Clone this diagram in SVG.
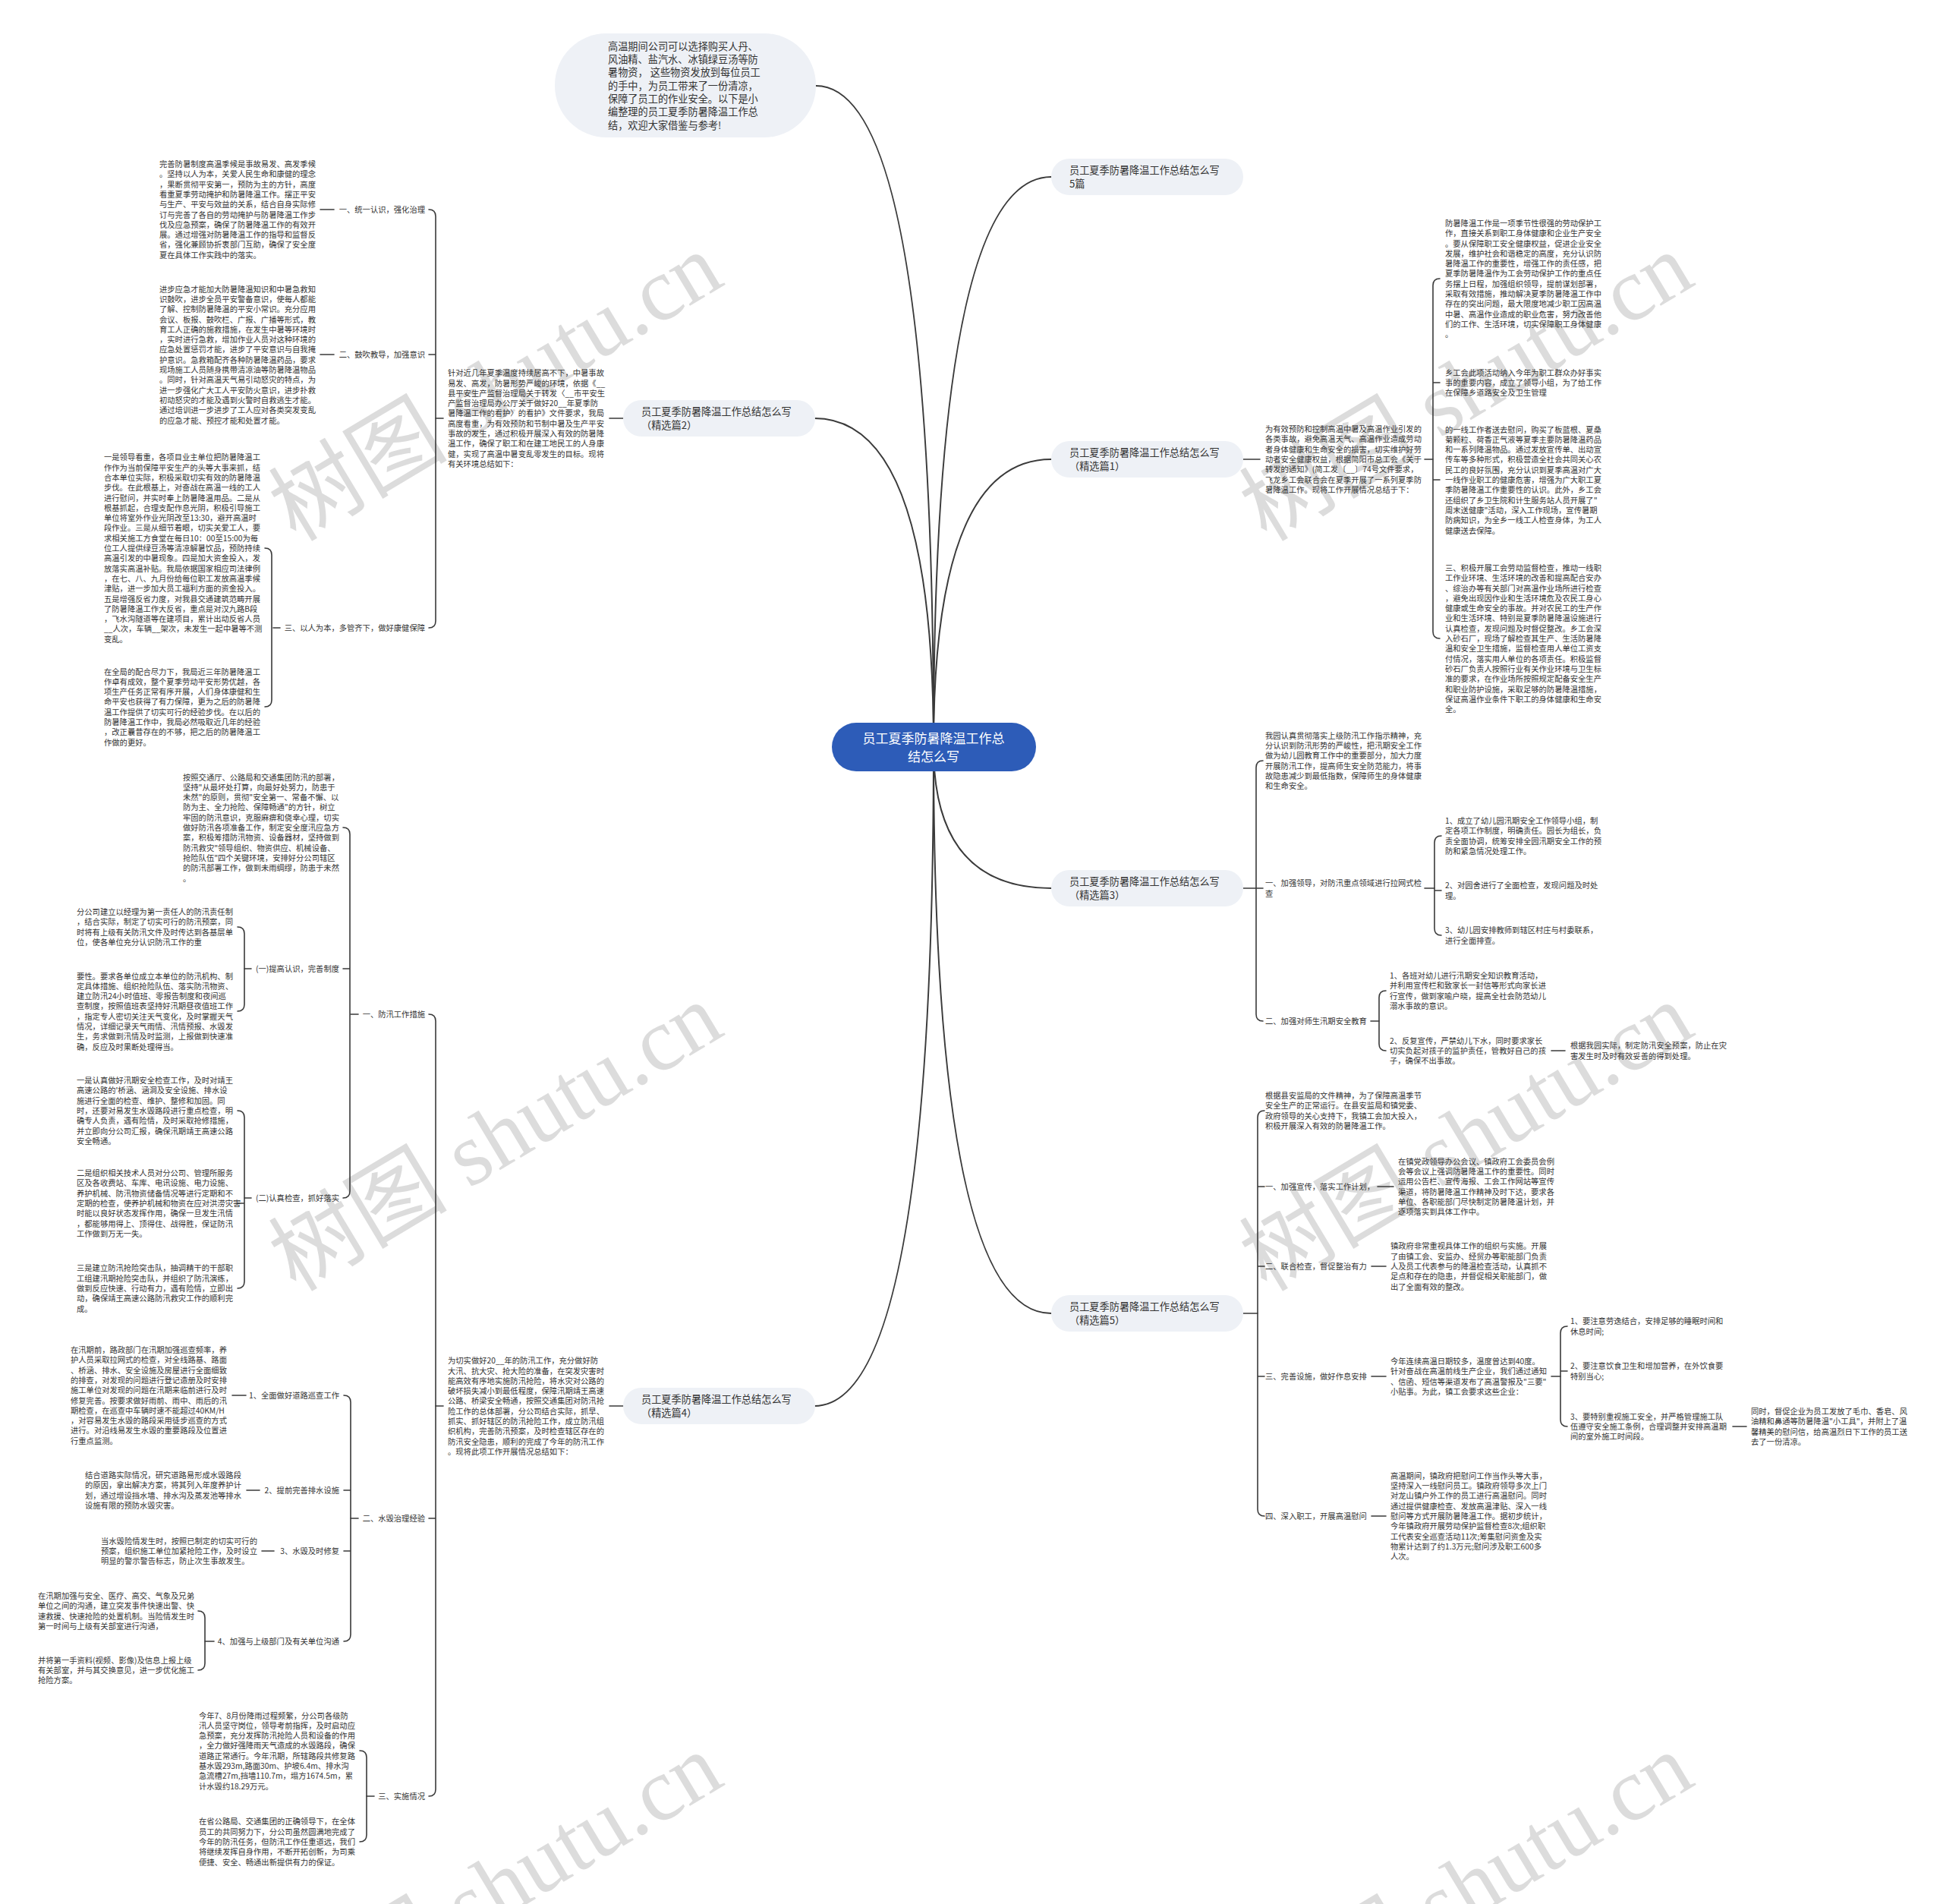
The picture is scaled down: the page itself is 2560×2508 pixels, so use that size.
<svg xmlns="http://www.w3.org/2000/svg" width="2560" height="2508" viewBox="0 0 2560 2508">
<style>
.t{font-family:"Noto Sans CJK SC","Noto Sans",sans-serif;font-size:10.3px;fill:#333}
.te{text-anchor:end}
.p{font-family:"Noto Sans CJK SC","Noto Sans",sans-serif;font-size:13.2px;fill:#333}
.c{font-family:"Noto Sans CJK SC","Noto Sans",sans-serif;font-size:17px;fill:#fff;text-anchor:middle}
.ln{fill:none;stroke:#3a3a3a;stroke-width:1.6;stroke-linecap:round;stroke-linejoin:round}
.mc{fill:none;stroke:#3a3a3a;stroke-width:2}
.pill{fill:#eef1f6}
.wm{font-family:"Liberation Serif","Noto Sans CJK SC",serif;font-size:118px;fill:#dcdcdc;text-anchor:middle}
</style>
<rect width="2560" height="2508" fill="#ffffff"/>
<g id="watermarks">
<text class="wm" x="653" y="550" transform="rotate(-31 653 510)">树图 shutu.cn</text>
<text class="wm" x="1932" y="550" transform="rotate(-31 1932 510)">树图 shutu.cn</text>
<text class="wm" x="653" y="1538" transform="rotate(-31 653 1498)">树图 shutu.cn</text>
<text class="wm" x="1932" y="1538" transform="rotate(-31 1932 1498)">树图 shutu.cn</text>
<text class="wm" x="653" y="2526" transform="rotate(-31 653 2486)">树图 shutu.cn</text>
<text class="wm" x="1932" y="2526" transform="rotate(-31 1932 2486)">树图 shutu.cn</text>
</g>
<g id="connectors">
<path class="mc" d="M1230 984 Q1230 113 1075 113"/>
<path class="mc" d="M1230 984 Q1230 551 1073 551"/>
<path class="mc" d="M1230 984 Q1230 1852 1073 1852"/>
<path class="mc" d="M1230 984 Q1230 233 1385 233"/>
<path class="mc" d="M1230 984 Q1230 605 1385 605"/>
<path class="mc" d="M1230 984 Q1230 1170 1385 1170"/>
<path class="mc" d="M1230 984 Q1230 1730 1385 1730"/>
<path class="ln" d="M1638 605 L1660 605"/>
<path class="ln" d="M1877 605 L1888 605"/>
<path class="ln" d="M1897 367 Q1888 367 1888 376 L1888 832 Q1888 841 1897 841 M1888 504 L1897 504 M1888 632 L1897 632"/>
<path class="ln" d="M1638 1170 L1664 1170"/>
<path class="ln" d="M1664 1002 Q1655 1002 1655 1011 L1655 1336 Q1655 1345 1664 1345"/>
<path class="ln" d="M1877 1170 L1890 1170"/>
<path class="ln" d="M1899 1101 Q1890 1101 1890 1110 L1890 1223 Q1890 1232 1899 1232 M1890 1173 L1899 1173"/>
<path class="ln" d="M1806 1345 L1817 1345"/>
<path class="ln" d="M1826 1305 Q1817 1305 1817 1314 L1817 1375 Q1817 1384 1826 1384"/>
<path class="ln" d="M2044 1384 L2062 1384"/>
<path class="ln" d="M1638 1730 L1657 1730"/>
<path class="ln" d="M1666 1463 Q1657 1463 1657 1472 L1657 1988 Q1657 1997 1666 1997 M1657 1563 L1666 1563 M1657 1668 L1666 1668 M1657 1813 L1666 1813"/>
<path class="ln" d="M1815 1563 L1836 1563"/>
<path class="ln" d="M1807 1668 L1826 1668"/>
<path class="ln" d="M1807 1813 L1826 1813"/>
<path class="ln" d="M2044 1813 L2056 1813"/>
<path class="ln" d="M2065 1747 Q2056 1747 2056 1756 L2056 1870 Q2056 1879 2065 1879 M2056 1806 L2065 1806"/>
<path class="ln" d="M2283 1879 L2301 1879"/>
<path class="ln" d="M1807 1997 L1826 1997"/>
<path class="ln" d="M803 551 L821 551"/>
<path class="ln" d="M574 551 L584 551"/>
<path class="ln" d="M565 276 Q574 276 574 285 L574 818 Q574 827 565 827 M574 467 L565 467"/>
<path class="ln" d="M422 276 L440 276"/>
<path class="ln" d="M422 467 L440 467"/>
<path class="ln" d="M360 827 L369 827"/>
<path class="ln" d="M349 722 Q358 722 358 731 L358 922 Q358 931 349 931"/>
<path class="ln" d="M803 1852 L821 1852"/>
<path class="ln" d="M574 1852 L584 1852"/>
<path class="ln" d="M565 1336 Q574 1336 574 1345 L574 2357 Q574 2366 565 2366 M574 2000 L565 2000"/>
<path class="ln" d="M462 1336 L472 1336"/>
<path class="ln" d="M452 1090 Q461 1090 461 1099 L461 1569 Q461 1578 452 1578 M461 1276 L452 1276"/>
<path class="ln" d="M322 1276 L331 1276"/>
<path class="ln" d="M313 1221 Q322 1221 322 1230 L322 1323 Q322 1332 313 1332"/>
<path class="ln" d="M322 1578 L331 1578"/>
<path class="ln" d="M313 1463 Q322 1463 322 1472 L322 1688 Q322 1697 313 1697 M322 1585 L313 1585"/>
<path class="ln" d="M462 2000 L472 2000"/>
<path class="ln" d="M453 1838 Q462 1838 462 1847 L462 2153 Q462 2162 453 2162 M462 1963 L453 1963 M462 2043 L453 2043"/>
<path class="ln" d="M306 1838 L324 1838"/>
<path class="ln" d="M325 1963 L342 1963"/>
<path class="ln" d="M345 2043 L361 2043"/>
<path class="ln" d="M270 2162 L282 2162"/>
<path class="ln" d="M261 2122 Q270 2122 270 2131 L270 2191 Q270 2200 261 2200"/>
<path class="ln" d="M483 2366 L493 2366"/>
<path class="ln" d="M474 2306 Q483 2306 483 2315 L483 2417 Q483 2426 474 2426"/>
</g>
<g id="center">
<rect x="1096" y="952" width="269" height="64" rx="32" fill="#2d5cb8"/>
<text class="c" x="1230" y="978.5">员工夏季防暑降温工作总</text>
<text class="c" x="1230" y="1002.5">结怎么写</text>
</g>
<g id="intro">
<rect class="pill" x="731" y="44" width="344" height="137" rx="68"/>
<text class="p" x="801" y="65.7"><tspan x="801">高温期间公司可以选择购买人丹、</tspan><tspan x="801" dy="17.3">风油精、盐汽水、冰镇绿豆汤等防</tspan><tspan x="801" dy="17.3">暑物资， 这些物资发放到每位员工</tspan><tspan x="801" dy="17.3">的手中，为员工带来了一份清凉，</tspan><tspan x="801" dy="17.3">保障了员工的作业安全。以下是小</tspan><tspan x="801" dy="17.3">编整理的员工夏季防暑降温工作总</tspan><tspan x="801" dy="17.3">结，欢迎大家借鉴与参考!</tspan></text>
</g>
<g id="n-5pian">
<rect class="pill" x="1385" y="209" width="253" height="48" rx="24"/>
<text class="p" x="1409" y="229"><tspan x="1409">员工夏季防暑降温工作总结怎么写</tspan><tspan x="1409" dy="18">5篇</tspan></text>
</g>
<g id="n-p1">
<rect class="pill" x="1385" y="581" width="253" height="48" rx="24"/>
<text class="p" x="1409" y="601"><tspan x="1409">员工夏季防暑降温工作总结怎么写</tspan><tspan x="1409" dy="18">（精选篇1）</tspan></text>
</g>
<g id="n-p3">
<rect class="pill" x="1385" y="1146" width="253" height="48" rx="24"/>
<text class="p" x="1409" y="1166"><tspan x="1409">员工夏季防暑降温工作总结怎么写</tspan><tspan x="1409" dy="18">（精选篇3）</tspan></text>
</g>
<g id="n-p5">
<rect class="pill" x="1385" y="1706" width="253" height="48" rx="24"/>
<text class="p" x="1409" y="1726"><tspan x="1409">员工夏季防暑降温工作总结怎么写</tspan><tspan x="1409" dy="18">（精选篇5）</tspan></text>
</g>
<g id="n-p2">
<rect class="pill" x="821" y="527" width="253" height="48" rx="24"/>
<text class="p" x="845" y="547"><tspan x="845">员工夏季防暑降温工作总结怎么写</tspan><tspan x="845" dy="18">（精选篇2）</tspan></text>
</g>
<g id="n-p4">
<rect class="pill" x="821" y="1828" width="253" height="48" rx="24"/>
<text class="p" x="845" y="1848"><tspan x="845">员工夏季防暑降温工作总结怎么写</tspan><tspan x="845" dy="18">（精选篇4）</tspan></text>
</g>
<g id="p1-intro"><text class="t" x="1667" y="569.1"><tspan x="1667">为有效预防和控制高温中暑及高温作业引发的</tspan><tspan x="1667" dy="13.3">各类事故，避免高温天气、高温作业造成劳动</tspan><tspan x="1667" dy="13.3">者身体健康和生命安全的损害，切实维护好劳</tspan><tspan x="1667" dy="13.3">动者安全健康权益，根据简阳市总工会《关于</tspan><tspan x="1667" dy="13.3">转发的通知》(简工发〔__〕74号文件要求，</tspan><tspan x="1667" dy="13.3">飞龙乡工会联合会在夏季开展了一系列夏季防</tspan><tspan x="1667" dy="13.3">暑降温工作。现将工作开展情况总结于下：</tspan></text></g>
<g id="p1-c1"><text class="t" x="1904" y="297.9"><tspan x="1904">防暑降温工作是一项季节性很强的劳动保护工</tspan><tspan x="1904" dy="13.3">作，直接关系到职工身体健康和企业生产安全</tspan><tspan x="1904" dy="13.3">。要从保障职工安全健康权益，促进企业安全</tspan><tspan x="1904" dy="13.3">发展，维护社会和谐稳定的高度，充分认识防</tspan><tspan x="1904" dy="13.3">暑降温工作的重要性，增强工作的责任感，把</tspan><tspan x="1904" dy="13.3">夏季防暑降温作为工会劳动保护工作的重点任</tspan><tspan x="1904" dy="13.3">务摆上日程，加强组织领导，提前谋划部署，</tspan><tspan x="1904" dy="13.3">采取有效措施，推动解决夏季防暑降温工作中</tspan><tspan x="1904" dy="13.3">存在的突出问题，最大限度地减少职工因高温</tspan><tspan x="1904" dy="13.3">中暑、高温作业造成的职业危害，努力改善他</tspan><tspan x="1904" dy="13.3">们的工作、生活环境，切实保障职工身体健康</tspan><tspan x="1904" dy="13.3">。</tspan></text></g>
<g id="p1-c2"><text class="t" x="1904" y="494.7"><tspan x="1904">乡工会此项活动纳入今年为职工群众办好事实</tspan><tspan x="1904" dy="13.3">事的重要内容，成立了领导小组，为了给工作</tspan><tspan x="1904" dy="13.3">在保障乡道路安全及卫生管理</tspan></text></g>
<g id="p1-c3"><text class="t" x="1904" y="569.5"><tspan x="1904">的一线工作者送去慰问，购买了板蓝根、夏桑</tspan><tspan x="1904" dy="13.3">菊颗粒、荷香正气液等夏季主要防暑降温药品</tspan><tspan x="1904" dy="13.3">和一系列降温物品。通过发放宣传单、出动宣</tspan><tspan x="1904" dy="13.3">传车等多种形式，积极营造全社会共同关心农</tspan><tspan x="1904" dy="13.3">民工的良好氛围，充分认识到夏季高温对广大</tspan><tspan x="1904" dy="13.3">一线作业职工的健康危害，增强为广大职工夏</tspan><tspan x="1904" dy="13.3">季防暑降温工作重要性的认识。此外，乡工会</tspan><tspan x="1904" dy="13.3">还组织了乡卫生院和计生服务站人员开展了"</tspan><tspan x="1904" dy="13.3">周末送健康"活动，深入工作现场，宣传暑期</tspan><tspan x="1904" dy="13.3">防病知识，为全乡一线工人检查身体，为工人</tspan><tspan x="1904" dy="13.3">健康送去保障。</tspan></text></g>
<g id="p1-c4"><text class="t" x="1904" y="751.9"><tspan x="1904">三、积极开展工会劳动监督检查，推动一线职</tspan><tspan x="1904" dy="13.3">工作业环境、生活环境的改善和提高配合安办</tspan><tspan x="1904" dy="13.3">、综治办等有关部门对高温作业场所进行检查</tspan><tspan x="1904" dy="13.3">，避免出现因作业和生活环境危及农民工身心</tspan><tspan x="1904" dy="13.3">健康或生命安全的事故。并对农民工的生产作</tspan><tspan x="1904" dy="13.3">业和生活环境、特别是夏季防暑降温设施进行</tspan><tspan x="1904" dy="13.3">认真检查，发现问题及时督促整改。乡工会深</tspan><tspan x="1904" dy="13.3">入砂石厂，现场了解检查其生产、生活防暑降</tspan><tspan x="1904" dy="13.3">温和安全卫生措施，监督检查用人单位工资支</tspan><tspan x="1904" dy="13.3">付情况，落实用人单位的各项责任。积极监督</tspan><tspan x="1904" dy="13.3">砂石厂负责人按照行业有关作业环境与卫生标</tspan><tspan x="1904" dy="13.3">准的要求，在作业场所按照规定配备安全生产</tspan><tspan x="1904" dy="13.3">和职业防护设施，采取足够的防暑降温措施，</tspan><tspan x="1904" dy="13.3">保证高温作业条件下职工的身体健康和生命安</tspan><tspan x="1904" dy="13.3">全。</tspan></text></g>
<g id="p3-c1"><text class="t" x="1667" y="972.75"><tspan x="1667">我园认真贯彻落实上级防汛工作指示精神，充</tspan><tspan x="1667" dy="13.3">分认识到防汛形势的严峻性，把汛期安全工作</tspan><tspan x="1667" dy="13.3">做为幼儿园教育工作中的重要部分，加大力度</tspan><tspan x="1667" dy="13.3">开展防汛工作，提高师生安全防范能力，将事</tspan><tspan x="1667" dy="13.3">故隐患减少到最低指数，保障师生的身体健康</tspan><tspan x="1667" dy="13.3">和生命安全。</tspan></text></g>
<g id="p3-c2"><text class="t" x="1667" y="1167.4"><tspan x="1667">一、加强领导，对防汛重点领域进行拉网式检</tspan><tspan x="1667" dy="13.3">查</tspan></text></g>
<g id="p3-c2a"><text class="t" x="1904" y="1085"><tspan x="1904">1、成立了幼儿园汛期安全工作领导小组，制</tspan><tspan x="1904" dy="13.3">定各项工作制度，明确责任。园长为组长，负</tspan><tspan x="1904" dy="13.3">责全面协调，统筹安排全园汛期安全工作的预</tspan><tspan x="1904" dy="13.3">防和紧急情况处理工作。</tspan></text></g>
<g id="p3-c2b"><text class="t" x="1904" y="1170.4"><tspan x="1904">2、对园舍进行了全面检查，发现问题及时处</tspan><tspan x="1904" dy="13.3">理。</tspan></text></g>
<g id="p3-c2c"><text class="t" x="1904" y="1229.4"><tspan x="1904">3、幼儿园安排教师到辖区村庄与村委联系，</tspan><tspan x="1904" dy="13.3">进行全面排查。</tspan></text></g>
<g id="p3-c3"><text class="t" x="1667" y="1349">二、加强对师生汛期安全教育</text></g>
<g id="p3-c3a"><text class="t" x="1831" y="1289"><tspan x="1831">1、各班对幼儿进行汛期安全知识教育活动，</tspan><tspan x="1831" dy="13.3">并利用宣传栏和致家长一封信等形式向家长进</tspan><tspan x="1831" dy="13.3">行宣传，做到家喻户晓，提高全社会防范幼儿</tspan><tspan x="1831" dy="13.3">溺水事故的意识。</tspan></text></g>
<g id="p3-c3b"><text class="t" x="1831" y="1374.7"><tspan x="1831">2、反复宣传，严禁幼儿下水，同时要求家长</tspan><tspan x="1831" dy="13.3">切实负起对孩子的监护责任，管教好自己的孩</tspan><tspan x="1831" dy="13.3">子，确保不出事故。</tspan></text></g>
<g id="p3-c3b1"><text class="t" x="2069" y="1381.4"><tspan x="2069">根据我园实际，制定防汛安全预案，防止在灾</tspan><tspan x="2069" dy="13.3">害发生时及时有效妥善的得到处理。</tspan></text></g>
<g id="p5-c1"><text class="t" x="1667" y="1447"><tspan x="1667">根据县安监局的文件精神，为了保障高温季节</tspan><tspan x="1667" dy="13.3">安全生产的正常运行。在县安监局和镇党委、</tspan><tspan x="1667" dy="13.3">政府领导的关心支持下，我镇工会加大投入，</tspan><tspan x="1667" dy="13.3">积极开展深入有效的防暑降温工作。</tspan></text></g>
<g id="p5-c2"><text class="t" x="1667" y="1567">一、加强宣传，落实工作计划，</text></g>
<g id="p5-c2a"><text class="t" x="1842" y="1533.8"><tspan x="1842">在镇党政领导办公会议、镇政府工会委员会例</tspan><tspan x="1842" dy="13.3">会等会议上强调防暑降温工作的重要性。同时</tspan><tspan x="1842" dy="13.3">运用公告栏、宣传海报、工会工作网站等宣传</tspan><tspan x="1842" dy="13.3">渠道，将防暑降温工作精神及时下达，要求各</tspan><tspan x="1842" dy="13.3">单位、各职能部门尽快制定防暑降温计划，并</tspan><tspan x="1842" dy="13.3">逐项落实到具体工作中。</tspan></text></g>
<g id="p5-c3"><text class="t" x="1667" y="1672">二、联合检查，督促整治有力</text></g>
<g id="p5-c3a"><text class="t" x="1832" y="1645.4"><tspan x="1832">镇政府非常重视具体工作的组织与实施。开展</tspan><tspan x="1832" dy="13.3">了由镇工会、安监办、经贸办等职能部门负责</tspan><tspan x="1832" dy="13.3">人及员工代表参与的降温检查活动，认真抓不</tspan><tspan x="1832" dy="13.3">足点和存在的隐患，并督促相关职能部门，做</tspan><tspan x="1832" dy="13.3">出了全面有效的整改。</tspan></text></g>
<g id="p5-c4"><text class="t" x="1667" y="1817">三、完善设施，做好作息安排</text></g>
<g id="p5-c4a"><text class="t" x="1832" y="1797"><tspan x="1832">今年连续高温日期较多，温度曾达到40度。</tspan><tspan x="1832" dy="13.3">针对奋战在高温前线生产企业，我们通过通知</tspan><tspan x="1832" dy="13.3">、信函、短信等渠道发布了高温警报及"三要"</tspan><tspan x="1832" dy="13.3">小贴事。为此，镇工会要求这些企业：</tspan></text></g>
<g id="p5-c4a1"><text class="t" x="2069" y="1744.4"><tspan x="2069">1、要注意劳逸结合，安排足够的睡眠时间和</tspan><tspan x="2069" dy="13.3">休息时间;</tspan></text></g>
<g id="p5-c4a2"><text class="t" x="2069" y="1803.4"><tspan x="2069">2、要注意饮食卫生和增加营养，在外饮食要</tspan><tspan x="2069" dy="13.3">特别当心;</tspan></text></g>
<g id="p5-c4a3"><text class="t" x="2069" y="1869.7"><tspan x="2069">3、要特别重视施工安全，并严格管理施工队</tspan><tspan x="2069" dy="13.3">伍遵守安全施工条例，合理调整并安排高温期</tspan><tspan x="2069" dy="13.3">间的室外施工时间段。</tspan></text></g>
<g id="p5-c4a3a"><text class="t" x="2307" y="1863"><tspan x="2307">同时，督促企业为员工发放了毛巾、香皂、风</tspan><tspan x="2307" dy="13.3">油精和鼻通等防暑降温"小工具"，并附上了温</tspan><tspan x="2307" dy="13.3">馨精美的慰问信，给高温烈日下工作的员工送</tspan><tspan x="2307" dy="13.3">去了一份清凉。</tspan></text></g>
<g id="p5-c5"><text class="t" x="1667" y="2001">四、深入职工，开展高温慰问</text></g>
<g id="p5-c5a"><text class="t" x="1832" y="1947.8"><tspan x="1832">高温期间，镇政府把慰问工作当作头等大事，</tspan><tspan x="1832" dy="13.3">坚持深入一线慰问员工。镇政府领导多次上门</tspan><tspan x="1832" dy="13.3">对龙山镇户外工作的员工进行高温慰问。同时</tspan><tspan x="1832" dy="13.3">通过提供健康检查、发放高温津贴、深入一线</tspan><tspan x="1832" dy="13.3">慰问等方式开展防暑降温工作。据初步统计，</tspan><tspan x="1832" dy="13.3">今年镇政府开展劳动保护监督检查8次;组织职</tspan><tspan x="1832" dy="13.3">工代表安全巡查活动11次;筹集慰问资金及实</tspan><tspan x="1832" dy="13.3">物累计达到了约1.3万元;慰问涉及职工600多</tspan><tspan x="1832" dy="13.3">人次。</tspan></text></g>
<g id="p2-intro"><text class="t" x="590" y="495.2"><tspan x="590">针对近几年夏季温度持续居高不下，中暑事故</tspan><tspan x="590" dy="13.3">易发、高发，防暑形势严峻的环境，依据《__</tspan><tspan x="590" dy="13.3">县平安生产监督治理局关于转发〈__市平安生</tspan><tspan x="590" dy="13.3">产监督治理局办公厅关于做好20__年夏季防</tspan><tspan x="590" dy="13.3">暑降温工作的看护〉的看护》文件要求，我局</tspan><tspan x="590" dy="13.3">高度看重，为有效预防和节制中暑及生产平安</tspan><tspan x="590" dy="13.3">事故的发生，通过积极开展深入有效的防暑降</tspan><tspan x="590" dy="13.3">温工作，确保了职工和在建工地民工的人身康</tspan><tspan x="590" dy="13.3">健，实现了高温中暑变乱零发生的目标。现将</tspan><tspan x="590" dy="13.3">有关环境总结如下：</tspan></text></g>
<g id="p2-c1"><text class="t te" x="560" y="280">一、统一认识，强化治理</text></g>
<g id="p2-c1a"><text class="t" x="210" y="220"><tspan x="210">完善防暑制度高温季候是事故易发、高发季候</tspan><tspan x="210" dy="13.3">。坚持以人为本，关爱人民生命和康健的理念</tspan><tspan x="210" dy="13.3">，果断贯彻平安第一，预防为主的方针，高度</tspan><tspan x="210" dy="13.3">看重夏季劳动掩护和防暑降温工作。摆正平安</tspan><tspan x="210" dy="13.3">与生产、平安与效益的关系，结合自身实际修</tspan><tspan x="210" dy="13.3">订与完善了各自的劳动掩护与防暑降温工作步</tspan><tspan x="210" dy="13.3">伐及应急预案，确保了防暑降温工作的有效开</tspan><tspan x="210" dy="13.3">展。通过增强对防暑降温工作的指导和监督反</tspan><tspan x="210" dy="13.3">省，强化兼顾协折衷部门互助，确保了安全度</tspan><tspan x="210" dy="13.3">夏在具体工作实践中的落实。</tspan></text></g>
<g id="p2-c2"><text class="t te" x="560" y="471">二、鼓吹教导，加强意识</text></g>
<g id="p2-c2a"><text class="t" x="210" y="384.6"><tspan x="210">进步应急才能加大防暑降温知识和中暑急救知</tspan><tspan x="210" dy="13.3">识鼓吹，进步全员平安警备意识，使每人都能</tspan><tspan x="210" dy="13.3">了解、控制防暑降温的平安小常识。充分应用</tspan><tspan x="210" dy="13.3">会议、板报、鼓吹栏、广报、广播等形式，教</tspan><tspan x="210" dy="13.3">育工人正确的施救措施，在发生中暑等环境时</tspan><tspan x="210" dy="13.3">，实时进行急救，增加作业人员对这种环境的</tspan><tspan x="210" dy="13.3">应急处置惩罚才能，进步了平安意识与自我掩</tspan><tspan x="210" dy="13.3">护意识。急救箱配齐各种防暑降温药品，要求</tspan><tspan x="210" dy="13.3">现场施工人员随身携带清凉油等防暑降温物品</tspan><tspan x="210" dy="13.3">。同时，针对高温天气易引动怒灾的特点，为</tspan><tspan x="210" dy="13.3">进一步强化广大工人平安防火意识，进步扑救</tspan><tspan x="210" dy="13.3">初动怒灾的才能及遇到火警时自救逃生才能。</tspan><tspan x="210" dy="13.3">通过培训进一步进步了工人应对各类突发变乱</tspan><tspan x="210" dy="13.3">的应急才能、预控才能和处置才能。</tspan></text></g>
<g id="p2-c3"><text class="t te" x="560" y="831">三、以人为本，多管齐下，做好康健保障</text></g>
<g id="p2-c3a"><text class="t" x="137" y="606.3"><tspan x="137">一是领导看重，各项目业主单位把防暑降温工</tspan><tspan x="137" dy="13.3">作作为当前保障平安生产的头等大事来抓，结</tspan><tspan x="137" dy="13.3">合本单位实际，积极采取切实有效的防暑降温</tspan><tspan x="137" dy="13.3">步伐。在此根基上，对奋战在高温一线的工人</tspan><tspan x="137" dy="13.3">进行慰问，并实时奉上防暑降温用品。二是从</tspan><tspan x="137" dy="13.3">根基抓起，合理支配作息光阴，积极引导施工</tspan><tspan x="137" dy="13.3">单位将室外作业光阴改至13:30，避开高温时</tspan><tspan x="137" dy="13.3">段作业。三是从细节着眼，切实关爱工人，要</tspan><tspan x="137" dy="13.3">求相关施工方食堂在每日10：00至15:00为每</tspan><tspan x="137" dy="13.3">位工人提供绿豆汤等清凉解暑饮品，预防持续</tspan><tspan x="137" dy="13.3">高温引发的中暑现象。四是加大资金投入，发</tspan><tspan x="137" dy="13.3">放落实高温补贴。我局依据国家相应司法律例</tspan><tspan x="137" dy="13.3">，在七、八、九月份给每位职工发放高温季候</tspan><tspan x="137" dy="13.3">津贴，进一步加大员工福利方面的资金投入。</tspan><tspan x="137" dy="13.3">五是增强反省力度，对我县交通建筑范畴开展</tspan><tspan x="137" dy="13.3">了防暑降温工作大反省，重点是对汉九路B段</tspan><tspan x="137" dy="13.3">，飞水沟隧道等在建项目，累计出动反省人员</tspan><tspan x="137" dy="13.3">__人次，车辆__架次，未发生一起中暑等不测</tspan><tspan x="137" dy="13.3">变乱。</tspan></text></g>
<g id="p2-c3b"><text class="t" x="137" y="888.5"><tspan x="137">在全局的配合尽力下，我局近三年防暑降温工</tspan><tspan x="137" dy="13.3">作卓有成效，整个夏季劳动平安形势优越，各</tspan><tspan x="137" dy="13.3">项生产任务正常有序开展，人们身体康健和生</tspan><tspan x="137" dy="13.3">命平安也获得了有力保障，更为之后的防暑降</tspan><tspan x="137" dy="13.3">温工作提供了切实可行的经验步伐。在以后的</tspan><tspan x="137" dy="13.3">防暑降温工作中，我局必然吸取近几年的经验</tspan><tspan x="137" dy="13.3">，改正曩昔存在的不够，把之后的防暑降温工</tspan><tspan x="137" dy="13.3">作做的更好。</tspan></text></g>
<g id="p4-intro"><text class="t" x="590" y="1796.2"><tspan x="590">为切实做好20__年的防汛工作，充分做好防</tspan><tspan x="590" dy="13.3">大汛、抗大灾、抢大险的准备，在突发灾害时</tspan><tspan x="590" dy="13.3">能高效有序地实施防汛抢险，将水灾对公路的</tspan><tspan x="590" dy="13.3">破坏损失减小到最低程度，保障汛期靖王高速</tspan><tspan x="590" dy="13.3">公路、桥梁安全畅通，按照交通集团对防汛抢</tspan><tspan x="590" dy="13.3">险工作的总体部署，分公司结合实际，抓早、</tspan><tspan x="590" dy="13.3">抓实、抓好辖区的防汛抢险工作，成立防汛组</tspan><tspan x="590" dy="13.3">织机构，完善防汛预案，及时检查辖区存在的</tspan><tspan x="590" dy="13.3">防汛安全隐患，顺利的完成了今年的防汛工作</tspan><tspan x="590" dy="13.3">。现将此项工作开展情况总结如下：</tspan></text></g>
<g id="p4-c1"><text class="t te" x="560" y="1340">一、防汛工作措施</text></g>
<g id="p4-c1a"><text class="t" x="241" y="1027.5"><tspan x="241">按照交通厅、公路局和交通集团防汛的部署，</tspan><tspan x="241" dy="13.3">坚持"从最坏处打算，向最好处努力，防患于</tspan><tspan x="241" dy="13.3">未然"的原则，贯彻"安全第一、常备不懈、以</tspan><tspan x="241" dy="13.3">防为主、全力抢险、保障畅通"的方针，树立</tspan><tspan x="241" dy="13.3">牢固的防汛意识，克服麻痹和侥幸心理，切实</tspan><tspan x="241" dy="13.3">做好防汛各项准备工作，制定安全度汛应急方</tspan><tspan x="241" dy="13.3">案，积极筹措防汛物资、设备器材，坚持做到</tspan><tspan x="241" dy="13.3">防汛救灾"领导组织、物资供应、机械设备、</tspan><tspan x="241" dy="13.3">抢险队伍"四个关键环境，安排好分公司辖区</tspan><tspan x="241" dy="13.3">的防汛部署工作，做到未雨绸缪，防患于未然</tspan><tspan x="241" dy="13.3">。</tspan></text></g>
<g id="p4-c1b"><text class="t te" x="447" y="1280">(一)提高认识，完善制度</text></g>
<g id="p4-c1b1"><text class="t" x="101" y="1205"><tspan x="101">分公司建立以经理为第一责任人的防汛责任制</tspan><tspan x="101" dy="13.3">，结合实际，制定了切实可行的防汛预案，同</tspan><tspan x="101" dy="13.3">时将有上级有关防汛文件及时传达到各基层单</tspan><tspan x="101" dy="13.3">位，使各单位充分认识防汛工作的重</tspan></text></g>
<g id="p4-c1b2"><text class="t" x="101" y="1289.5"><tspan x="101">要性。要求各单位成立本单位的防汛机构、制</tspan><tspan x="101" dy="13.3">定具体措施、组织抢险队伍、落实防汛物资、</tspan><tspan x="101" dy="13.3">建立防汛24小时值班、零报告制度和夜间巡</tspan><tspan x="101" dy="13.3">查制度，按照值班表坚持好汛期昼夜值班工作</tspan><tspan x="101" dy="13.3">，指定专人密切关注天气变化，及时掌握天气</tspan><tspan x="101" dy="13.3">情况，详细记录天气雨情、汛情预报、水毁发</tspan><tspan x="101" dy="13.3">生，务求做到汛情及时监测，上报做到快速准</tspan><tspan x="101" dy="13.3">确，反应及时果断处理得当。</tspan></text></g>
<g id="p4-c1c"><text class="t te" x="447" y="1582">(二)认真检查，抓好落实</text></g>
<g id="p4-c1c1"><text class="t" x="101" y="1427"><tspan x="101">一是认真做好汛期安全检查工作，及时对靖王</tspan><tspan x="101" dy="13.3">高速公路的'桥涵、涵洞及安全设施、排水设</tspan><tspan x="101" dy="13.3">施进行全面的检查、维护、整修和加固。同</tspan><tspan x="101" dy="13.3">时，还要对易发生水毁路段进行重点检查，明</tspan><tspan x="101" dy="13.3">确专人负责，遇有险情，及时采取抢修措施，</tspan><tspan x="101" dy="13.3">并立即向分公司汇报，确保汛期靖王高速公路</tspan><tspan x="101" dy="13.3">安全畅通。</tspan></text></g>
<g id="p4-c1c2"><text class="t" x="101" y="1549"><tspan x="101">二是组织相关技术人员对分公司、管理所服务</tspan><tspan x="101" dy="13.3">区及各收费站、车库、电讯设施、电力设施、</tspan><tspan x="101" dy="13.3">养护机械、防汛物资储备情况等进行定期和不</tspan><tspan x="101" dy="13.3">定期的检查，使养护机械和物资在应对洪涝灾害</tspan><tspan x="101" dy="13.3">时能以良好状态发挥作用，确保一旦发生汛情</tspan><tspan x="101" dy="13.3">，都能够用得上、顶得住、战得胜，保证防汛</tspan><tspan x="101" dy="13.3">工作做到万无一失。</tspan></text></g>
<g id="p4-c1c3"><text class="t" x="101" y="1674.4"><tspan x="101">三是建立防汛抢险突击队，抽调精干的干部职</tspan><tspan x="101" dy="13.3">工组建汛期抢险突击队，并组织了防汛演练，</tspan><tspan x="101" dy="13.3">做到反应快速、行动有力，遇有险情，立即出</tspan><tspan x="101" dy="13.3">动，确保靖王高速公路防汛救灾工作的顺利完</tspan><tspan x="101" dy="13.3">成。</tspan></text></g>
<g id="p4-c2"><text class="t te" x="560" y="2004">二、水毁治理经验</text></g>
<g id="p4-c2a"><text class="t te" x="447" y="1842">1、全面做好道路巡查工作</text></g>
<g id="p4-c2a1"><text class="t" x="93" y="1782"><tspan x="93">在汛期前，路政部门在汛期加强巡查频率，养</tspan><tspan x="93" dy="13.3">护人员采取拉网式的检查，对全线路基、路面</tspan><tspan x="93" dy="13.3">、桥涵、排水、安全设施及房屋进行全面细致</tspan><tspan x="93" dy="13.3">的排查，对发现的问题进行登记造册及时安排</tspan><tspan x="93" dy="13.3">施工单位对发现的问题在汛期来临前进行及时</tspan><tspan x="93" dy="13.3">修复完善。按要求做好雨前、雨中、雨后的汛</tspan><tspan x="93" dy="13.3">期检查，在巡查中车辆时速不能超过40KM/H</tspan><tspan x="93" dy="13.3">，对容易发生水毁的路段采用徒步巡查的方式</tspan><tspan x="93" dy="13.3">进行。对沿线易发生水毁的重要路段及位置进</tspan><tspan x="93" dy="13.3">行重点监测。</tspan></text></g>
<g id="p4-c2b"><text class="t te" x="447" y="1967">2、提前完善排水设施</text></g>
<g id="p4-c2b1"><text class="t" x="112" y="1947"><tspan x="112">结合道路实际情况，研究道路易形成水毁路段</tspan><tspan x="112" dy="13.3">的原因，拿出解决方案，将其列入年度养护计</tspan><tspan x="112" dy="13.3">划，通过增设挡水墙、排水沟及蒸发池等排水</tspan><tspan x="112" dy="13.3">设施有限的预防水毁灾害。</tspan></text></g>
<g id="p4-c2c"><text class="t te" x="447" y="2047">3、水毁及时修复</text></g>
<g id="p4-c2c1"><text class="t" x="133" y="2033.7"><tspan x="133">当水毁险情发生时，按照已制定的切实可行的</tspan><tspan x="133" dy="13.3">预案，组织施工单位加紧抢险工作，及时设立</tspan><tspan x="133" dy="13.3">明显的警示警告标志，防止次生事故发生。</tspan></text></g>
<g id="p4-c2d"><text class="t te" x="447" y="2166">4、加强与上级部门及有关单位沟通</text></g>
<g id="p4-c2d1"><text class="t" x="50" y="2106"><tspan x="50">在汛期加强与安全、医疗、高交、气象及兄弟</tspan><tspan x="50" dy="13.3">单位之间的沟通，建立突发事件快速出警、快</tspan><tspan x="50" dy="13.3">速救援、快速抢险的处置机制。当险情发生时</tspan><tspan x="50" dy="13.3">第一时间与上级有关部室进行沟通，</tspan></text></g>
<g id="p4-c2d2"><text class="t" x="50" y="2190.7"><tspan x="50">并将第一手资料(视频、影像)及信息上报上级</tspan><tspan x="50" dy="13.3">有关部室，并与其交换意见，进一步优化施工</tspan><tspan x="50" dy="13.3">抢险方案。</tspan></text></g>
<g id="p4-c3"><text class="t te" x="560" y="2370">三、实施情况</text></g>
<g id="p4-c3a"><text class="t" x="262" y="2263.5"><tspan x="262">今年7、8月份降雨过程频繁，分公司各级防</tspan><tspan x="262" dy="13.3">汛人员坚守岗位，领导考前指挥，及时启动应</tspan><tspan x="262" dy="13.3">急预案，充分发挥防汛抢险人员和设备的作用</tspan><tspan x="262" dy="13.3">，全力做好强降雨天气造成的水毁路段，确保</tspan><tspan x="262" dy="13.3">道路正常通行。今年汛期，所辖路段共修复路</tspan><tspan x="262" dy="13.3">基水毁293m,路面30m、护坡6.4m、排水沟</tspan><tspan x="262" dy="13.3">急流槽27m,挡墙110.7m，塌方1674.5m，累</tspan><tspan x="262" dy="13.3">计水毁约18.29万元。</tspan></text></g>
<g id="p4-c3b"><text class="t" x="262" y="2403.4"><tspan x="262">在省公路局、交通集团的正确领导下，在全体</tspan><tspan x="262" dy="13.3">员工的共同努力下，分公司虽然圆满地完成了</tspan><tspan x="262" dy="13.3">今年的防汛任务，但防汛工作任重道远，我们</tspan><tspan x="262" dy="13.3">将继续发挥自身作用，不断开拓创新，为司乘</tspan><tspan x="262" dy="13.3">便捷、安全、畅通出新提供有力的保证。</tspan></text></g>
</svg>
